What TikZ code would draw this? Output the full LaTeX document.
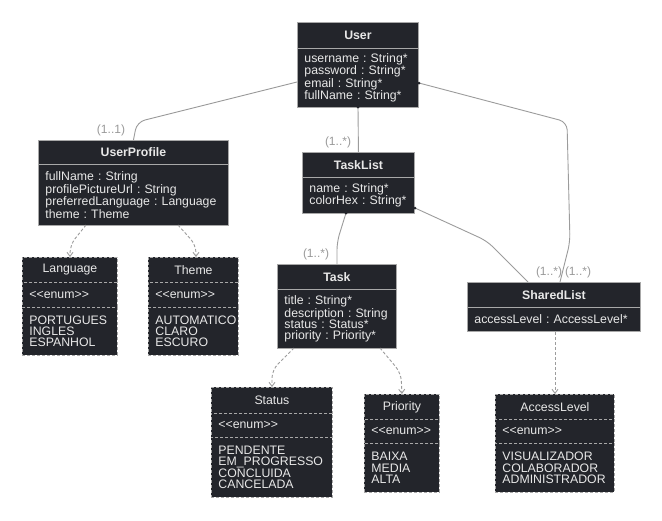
\documentclass[tikz,border=0pt]{standalone}
\usepackage{fontspec}
\setmainfont{Liberation Sans}[Ligatures=NoCommon]
\frenchspacing
\usetikzlibrary{arrows.meta}
\definecolor{boxc}{HTML}{23252B}
\definecolor{bordc}{HTML}{A8A8A8}
\definecolor{txtc}{HTML}{E8E8E8}
\definecolor{linec}{HTML}{9C9C9C}
\definecolor{labc}{HTML}{9A9A9A}
\newcommand{\enumtag}{{<}{<}enum{>}{>}}
\tikzset{
  cbox/.style={draw=bordc, fill=boxc, text=txtc, line width=0.9pt, anchor=north west,
    inner ysep=0pt, font=\fontsize{12.3}{11.3}\selectfont},
  hdr/.style={cbox, font=\fontsize{12.3}{11.3}\selectfont\bfseries, inner xsep=0pt},
  bodyc/.style={cbox, inner xsep=7pt, align=left},
  ebox/.style={cbox, dashed, dash pattern=on 3pt off 2pt},
  ehdr/.style={ebox, inner xsep=0pt},
  ebody/.style={ebox, inner xsep=7pt, align=left},
  conn/.style={draw=linec, line width=0.9pt, rounded corners=8pt},
  dep/.style={draw=linec, line width=0.9pt, dashed, dash pattern=on 3pt off 2pt, rounded corners=8pt,
    -{Straight Barb[length=4pt,width=6pt,line width=0.9pt]}},
  mult/.style={text=labc, font=\fontsize{12}{11}\selectfont, inner sep=0pt},
  srcdot/.style={circle, fill=boxc, inner sep=0pt, minimum size=3pt}
}
\begin{document}
\begin{tikzpicture}[x=1pt,y=-1pt]
\useasboundingbox[fill=white] (0,0) rectangle (662,520);

% User
\node[hdr, minimum width=121, minimum height=26] (user) at (297,22) {User};
\node[bodyc, text width=107, minimum height=59] (user-b) at (297,48) {username : String*\\password : String*\\email : String*\\fullName : String*};

% UserProfile
\node[hdr, minimum width=190, minimum height=24] (up) at (38,140) {UserProfile};
\node[bodyc, text width=176, minimum height=61] (up-b) at (38,164) {fullName : String\\profilePictureUrl : String\\preferredLanguage : Language\\theme : Theme};

% Language
\node[ehdr, minimum width=95, minimum height=25] (lang) at (22,257) {Language};
\node[ebody, text width=81, minimum height=25] (lang-e) at (22,282) {\enumtag};
\node[ebody, text width=81, minimum height=48] (lang-b) at (22,307) {PORTUGUES\\INGLES\\ESPANHOL};

% Theme
\node[ehdr, minimum width=90, minimum height=25] (theme) at (148,257) {Theme};
\node[ebody, text width=76, minimum height=25] (theme-e) at (148,282) {\enumtag};
\node[ebody, text width=76, minimum height=48] (theme-b) at (148,307) {AUTOMATICO\\CLARO\\ESCURO};

% TaskList
\node[hdr, minimum width=112, minimum height=25] (tl) at (302,152) {TaskList};
\node[bodyc, text width=98, minimum height=36] (tl-b) at (302,177) {name : String*\\colorHex : String*};

% Task
\node[hdr, minimum width=119, minimum height=25] (task) at (277,264) {Task};
\node[bodyc, text width=105, minimum height=59] (task-b) at (277,289) {title : String*\\description : String\\status : Status*\\priority : Priority*};

% Status
\node[ehdr, minimum width=121, minimum height=26] (st) at (211,387) {Status};
\node[ebody, text width=107, minimum height=24] (st-e) at (211,413) {\enumtag};
\node[ebody, text width=107, minimum height=60] (st-b) at (211,437) {PENDENTE\\EM\_PROGRESSO\\CONCLUIDA\\CANCELADA};

% Priority
\node[ehdr, minimum width=75, minimum height=25] (pr) at (364,394) {Priority};
\node[ebody, text width=61, minimum height=24] (pr-e) at (364,419) {\enumtag};
\node[ebody, text width=61, minimum height=49] (pr-b) at (364,443) {BAIXA\\MEDIA\\ALTA};

% SharedList
\node[hdr, minimum width=173, minimum height=25] (sl) at (467,282) {SharedList};
\node[bodyc, text width=159, minimum height=24] (sl-b) at (467,307) {accessLevel : AccessLevel*};

% AccessLevel
\node[ehdr, minimum width=119, minimum height=25] (al) at (495,394) {AccessLevel};
\node[ebody, text width=105, minimum height=24] (al-e) at (495,419) {\enumtag};
\node[ebody, text width=105, minimum height=49] (al-b) at (495,443) {VISUALIZADOR\\COLABORADOR\\ADMINISTRADOR};

% helper coordinates
\coordinate (uw) at (297,82);
\coordinate (ue) at (419,83);
\coordinate (us) at (358,107);
\coordinate (tle) at (415,208);
\coordinate (tls) at (346,213);
\coordinate (slt1) at (528,282);
\coordinate (slt2) at (560,282);
\coordinate (upb1) at (86,225);
\coordinate (upb2) at (178,225);
\coordinate (tb1) at (294,348);
\coordinate (tb2) at (380,348);

% associations
\draw[conn] (uw) -- (137,122) -- (up.north);
\draw[conn] (us) -- (tl.north);
\draw[conn] (ue) -- (567,122) -- (570,242) -- (slt2);
\draw[conn] (tle) -- (487,241) -- (slt1);
\draw[conn] (tls) -- (337,242) -- (task.north);
\node[srcdot] (d1) at (us) {};
\node[srcdot] (d2) at (ue) {};
\node[srcdot] (d3) at (tle) {};
\node[srcdot] (d4) at (tls) {};

% multiplicities
\node[mult] (m1) at (111,130) {(1..1)};
\node[mult] (m2) at (338,142) {(1..*)};
\node[mult] (m3) at (316,254) {(1..*)};
\node[mult] (m4) at (549,272) {(1..*)};
\node[mult] (m5) at (578,272) {(1..*)};

% dependencies
\draw[dep] (upb1) -- (70,245) -- (lang.north -| 70,0);
\draw[dep] (upb2) -- (196,245) -- (theme.north -| 196,0);
\draw[dep] (tb1) -- (272,370) -- (st.north -| 272,0);
\draw[dep] (tb2) -- (401,373) -- (pr.north);
\draw[dep] (sl-b.south -| 555,0) -- (al.north -| 555,0);
\end{tikzpicture}
\end{document}
